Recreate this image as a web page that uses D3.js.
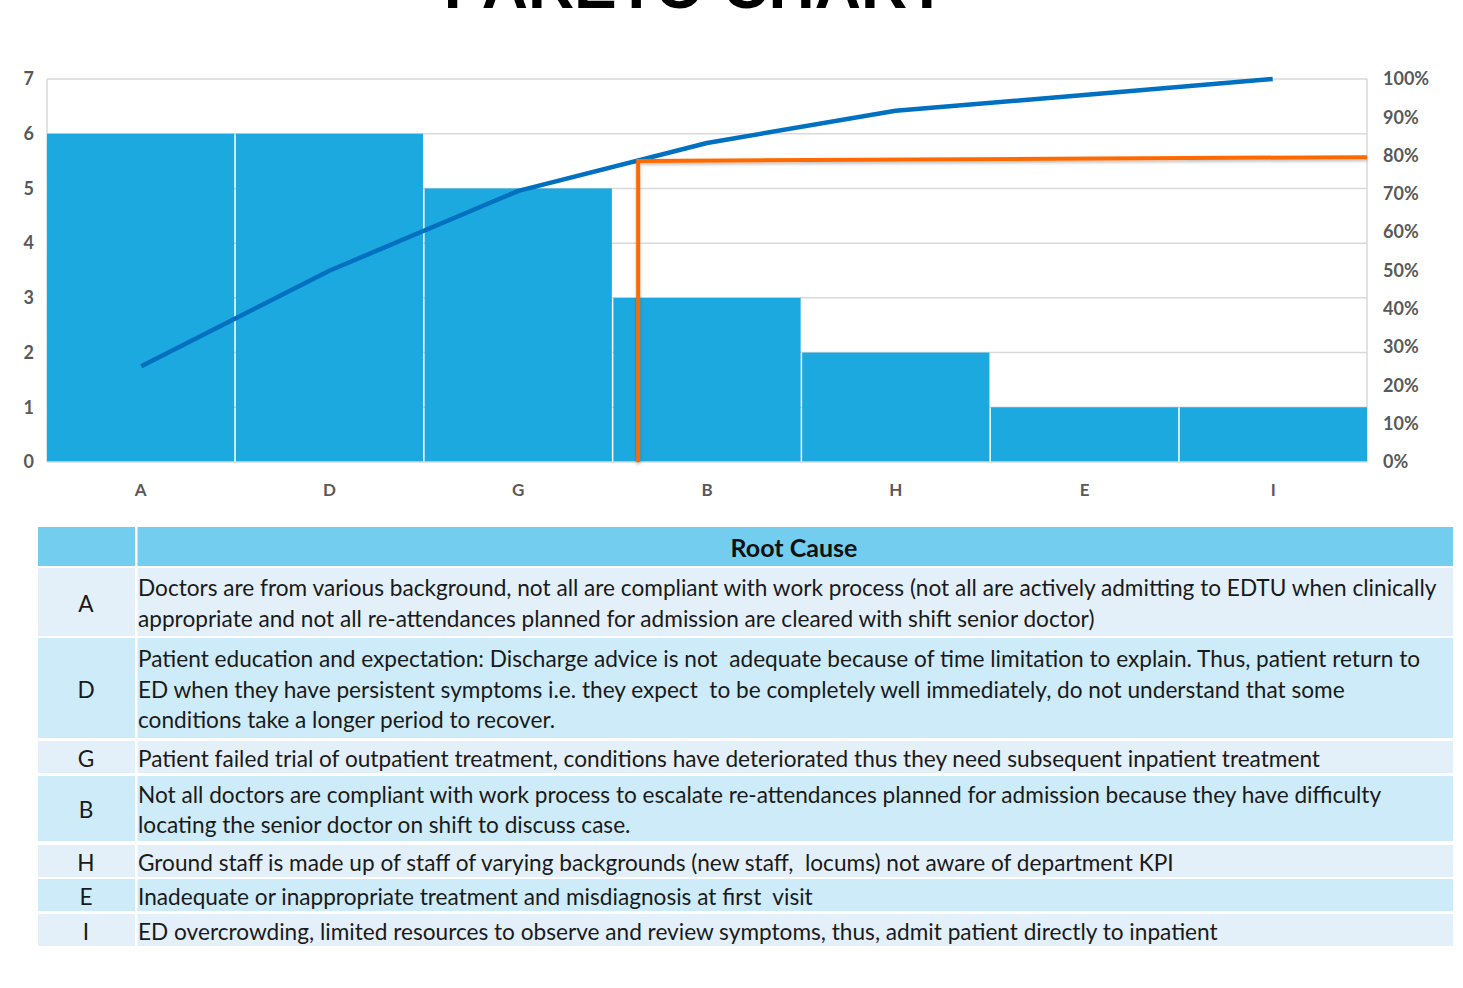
<!DOCTYPE html>
<html>
<head>
<meta charset="utf-8">
<script src="https://cdn.jsdelivr.net/npm/d3@7"></script>
<style>
  html, body { margin: 0; padding: 0; background: #ffffff; }
  svg { display: block; }
  .cell-text { white-space: pre; }
</style>
</head>
<body>
<svg id="chart" width="1463" height="988"></svg>
<script>
// ---- Data ----
const categories = ["A", "D", "G", "B", "H", "E", "I"];
const counts = [6, 6, 5, 3, 2, 1, 1];
const cumulativePct = [25, 50, 70.8, 83.3, 91.7, 95.8, 100];
const countTicks = [0, 1, 2, 3, 4, 5, 6, 7];
const pctTicks = [0, 10, 20, 30, 40, 50, 60, 70, 80, 90, 100];
// 80% cut-off marker: position along the category axis (index units) and its level
const cutoffIndex = 2.635;
const cutoffStartPct = 78.6;
const cutoffEndPct = 79.6;

const tableHeader = "Root Cause";
const rootCauseCodes = ["A", "D", "G", "B", "H", "E", "I"];
const rootCauseLines = [
  ["Doctors are from various background, not all are compliant with work process (not all are actively admitting to EDTU when clinically",
   "appropriate and not all re-attendances planned for admission are cleared with shift senior doctor)"],
  ["Patient education and expectation: Discharge advice is not  adequate because of time limitation to explain. Thus, patient return to",
   "ED when they have persistent symptoms i.e. they expect  to be completely well immediately, do not understand that some",
   "conditions take a longer period to recover."],
  ["Patient failed trial of outpatient treatment, conditions have deteriorated thus they need subsequent inpatient treatment"],
  ["Not all doctors are compliant with work process to escalate re-attendances planned for admission because they have difficulty",
   "locating the senior doctor on shift to discuss case."],
  ["Ground staff is made up of staff of varying backgrounds (new staff,  locums) not aware of department KPI"],
  ["Inadequate or inappropriate treatment and misdiagnosis at first  visit"],
  ["ED overcrowding, limited resources to observe and review symptoms, thus, admit patient directly to inpatient"]
];

// ---- Layout ----
const svg = d3.select("#chart");
const plot = { left: 47, right: 1367, top: 79, bottom: 462 };
const axisFont = "Lato, 'Open Sans', sans-serif";
const axisColor = "#595959";

const x = d3.scaleBand().domain(categories).range([plot.left, plot.right]).paddingInner(0.008).paddingOuter(0);
const step = (plot.right - plot.left) / categories.length;
const xCenter = (c) => plot.left + categories.indexOf(c) * step + step / 2;
const yCount = d3.scaleLinear().domain([0, 7]).range([plot.bottom, plot.top]);
const yPct = d3.scaleLinear().domain([0, 100]).range([plot.bottom, plot.top]);

const defs = svg.append("defs");
const shadow = defs.append("filter").attr("id", "lineShadow")
  .attr("x", "-5%").attr("y", "-5%").attr("width", "110%").attr("height", "120%");
shadow.append("feDropShadow").attr("dx", 0).attr("dy", 2).attr("stdDeviation", 1.5)
  .attr("flood-color", "#000").attr("flood-opacity", 0.25);

// Title (runs off the top edge)
svg.append("text")
  .attr("x", 695).attr("y", 8)
  .attr("text-anchor", "middle")
  .attr("font-family", "'Liberation Sans', Arial, sans-serif")
  .attr("font-weight", "bold")
  .attr("font-size", 64)
  .attr("fill", "#000")
  .text("PARETO CHART");

// Gridlines
svg.append("g").selectAll("line")
  .data(countTicks.filter(d => d > 0))
  .join("line")
  .attr("x1", plot.left).attr("x2", plot.right)
  .attr("y1", d => yCount(d)).attr("y2", d => yCount(d))
  .attr("stroke", "#d9d9d9").attr("stroke-width", 1.5);

// Plot frame sides
svg.append("line").attr("x1", plot.left).attr("x2", plot.left)
  .attr("y1", plot.top).attr("y2", plot.bottom).attr("stroke", "#d9d9d9").attr("stroke-width", 1.5);
svg.append("line").attr("x1", plot.right).attr("x2", plot.right)
  .attr("y1", plot.top).attr("y2", plot.bottom).attr("stroke", "#d9d9d9").attr("stroke-width", 1.5);

// Bars
svg.append("g").selectAll("rect")
  .data(categories.map((c, i) => ({ c, v: counts[i] })))
  .join("rect")
  .attr("x", d => x(d.c))
  .attr("width", x.bandwidth())
  .attr("y", d => yCount(d.v))
  .attr("height", d => yCount(0) - yCount(d.v))
  .attr("fill", "#1ca9e0");

// Baseline
svg.append("line").attr("x1", plot.left).attr("x2", plot.right)
  .attr("y1", plot.bottom).attr("y2", plot.bottom).attr("stroke", "#d9d9d9").attr("stroke-width", 1.5);

// Cumulative line
const line = d3.line().x(d => xCenter(d.c)).y(d => yPct(d.p));
svg.append("path")
  .datum(categories.map((c, i) => ({ c, p: cumulativePct[i] })))
  .attr("d", line)
  .attr("fill", "none")
  .attr("stroke", "#0070c0")
  .attr("stroke-width", 4.5)
  .attr("stroke-linejoin", "round");

// 80% cut-off marker
const cutX = plot.left + step / 2 + cutoffIndex * step;
svg.append("path")
  .attr("d", d3.line()([
    [cutX, yPct(0)],
    [cutX, yPct(cutoffStartPct)],
    [plot.right, yPct(cutoffEndPct)]
  ]))
  .attr("fill", "none")
  .attr("stroke", "#ff6a00")
  .attr("stroke-width", 4)
  .attr("filter", "url(#lineShadow)");

// Left axis
const leftAxis = svg.append("g")
  .attr("transform", `translate(${plot.left - 13},0)`)
  .call(d3.axisLeft(yCount).tickValues(countTicks).tickSize(0).tickPadding(0).tickFormat(d3.format("d")));
leftAxis.select(".domain").remove();
leftAxis.selectAll("text")
  .attr("font-family", axisFont).attr("font-weight", "bold").attr("font-size", 18)
  .attr("fill", axisColor);

// Right axis
const rightAxis = svg.append("g")
  .attr("transform", `translate(${plot.right + 16},0)`)
  .call(d3.axisRight(yPct).tickValues(pctTicks).tickSize(0).tickPadding(0).tickFormat(d => d + "%"));
rightAxis.select(".domain").remove();
rightAxis.selectAll("text")
  .attr("font-family", axisFont).attr("font-weight", "bold").attr("font-size", 18)
  .attr("fill", axisColor);

// Category axis
const bottomAxis = svg.append("g")
  .attr("transform", `translate(0,${plot.bottom})`)
  .call(d3.axisBottom(x).tickSize(0).tickPadding(22));
bottomAxis.select(".domain").remove();
bottomAxis.selectAll("text")
  .attr("font-family", axisFont).attr("font-weight", "bold").attr("font-size", 17)
  .attr("fill", axisColor);

// ---- Root cause table ----
const table = { left: 38, right: 1453, codeRight: 135, top: 527, headerBottom: 566, gap: 2.5 };
const rowBounds = [[568, 636], [638, 738], [741, 773], [776, 841], [845, 877], [879, 911], [914, 946]];
const rowFills = ["#e3eff9", "#cdebf8", "#e3eff9", "#cdebf8", "#e3eff9", "#cdebf8", "#e3eff9"];
const tableFont = "Lato, 'Open Sans', sans-serif";
const textX = 138;

const tg = svg.append("g");
tg.append("rect").attr("x", table.left).attr("y", table.top)
  .attr("width", table.codeRight - table.left).attr("height", table.headerBottom - table.top).attr("fill", "#73cdee");
tg.append("rect").attr("x", table.codeRight + table.gap).attr("y", table.top)
  .attr("width", table.right - table.codeRight - table.gap).attr("height", table.headerBottom - table.top).attr("fill", "#73cdee");
tg.append("text")
  .attr("x", (table.codeRight + table.right) / 2).attr("y", (table.top + table.headerBottom) / 2 + 4)
  .attr("text-anchor", "middle").attr("dominant-baseline", "middle")
  .attr("font-family", tableFont).attr("font-weight", "bold").attr("font-size", 25).attr("fill", "#111")
  .text(tableHeader);

// Size the body text so the widest line spans the description column
const probe = svg.append("text").attr("class", "cell-text")
  .attr("font-family", tableFont).attr("font-size", 20).text(rootCauseLines[0][0]);
const probeW = probe.node().getComputedTextLength();
probe.remove();
const bodySize = 20 * 1299 / probeW;
const lineGap = 30.5;

rootCauseCodes.forEach((code, i) => {
  const [y0, y1] = rowBounds[i];
  tg.append("rect").attr("x", table.left).attr("y", y0)
    .attr("width", table.codeRight - table.left).attr("height", y1 - y0).attr("fill", rowFills[i]);
  tg.append("rect").attr("x", table.codeRight + table.gap).attr("y", y0)
    .attr("width", table.right - table.codeRight - table.gap).attr("height", y1 - y0).attr("fill", rowFills[i]);
  const mid = (y0 + y1) / 2;
  tg.append("text")
    .attr("x", (table.left + table.codeRight) / 2 - 0.5).attr("y", mid + 4)
    .attr("text-anchor", "middle").attr("dominant-baseline", "middle")
    .attr("font-family", tableFont).attr("font-size", bodySize).attr("fill", "#1a1a1a")
    .text(code);
  const lines = rootCauseLines[i];
  const firstY = mid - (lines.length - 1) * lineGap / 2;
  lines.forEach((ln, j) => {
    tg.append("text").attr("class", "cell-text")
      .attr("x", textX).attr("y", firstY + j * lineGap + 4)
      .attr("dominant-baseline", "middle")
      .attr("font-family", tableFont).attr("font-size", bodySize).attr("fill", "#1a1a1a")
      .text(ln);
  });
});
</script>
</body>
</html>
